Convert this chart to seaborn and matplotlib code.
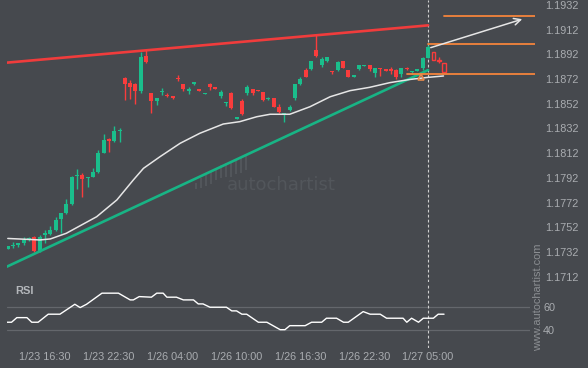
import numpy as np
import seaborn as sns
import matplotlib.pyplot as plt
from matplotlib.patches import FancyArrowPatch

# --- data (30 min candles, index 0 = first candle) ---
opens = [
    1.17346, 1.17370, 1.17378, 1.17395, 1.17417, 1.17443, 1.17327, 1.17455, 1.17465, 1.17498,
    1.17587, 1.17633, 1.17708, 1.17935, 1.17943, 1.17919, 1.17929, 1.17965, 1.18124, 1.18232,
    1.18221, 1.18299, 1.18729, 1.18686, 1.18680, 1.18626, 1.18907, 1.18605, 1.18545, 1.18615,
    1.18591, 1.18583, 1.18731, 1.18680, 1.18626, 1.18680, 1.18637, 1.18599, 1.18680, 1.18653,
    1.18583, 1.18524, 1.18610, 1.18399, 1.18542, 1.18605, 1.18642, 1.18634, 1.18615, 1.18559,
    1.18567, 1.18496, 1.18431, 1.18470, 1.18564, 1.18680, 1.18794, 1.18799, 1.18956, 1.18836,
    1.18869, 1.18788, 1.18794, 1.18869, 1.18794, 1.18739, 1.18804, 1.18823, 1.18832, 1.18772,
    1.18810, 1.18799, 1.18799, 1.18794, 1.18759, 1.18807, 1.18775, 1.18789, 1.18807, 1.18893,
    1.18939, 1.18875, 1.18848]
closes = [
    1.17370, 1.17376, 1.17390, 1.17417, 1.17433, 1.17327, 1.17443, 1.17471, 1.17498, 1.17579,
    1.17633, 1.17706, 1.17929, 1.17943, 1.17913, 1.17929, 1.17970, 1.18124, 1.18227, 1.18221,
    1.18299, 1.18308, 1.18680, 1.18658, 1.18626, 1.18901, 1.18858, 1.18545, 1.18567, 1.18626,
    1.18583, 1.18567, 1.18723, 1.18642, 1.18637, 1.18699, 1.18626, 1.18610, 1.18653, 1.18642,
    1.18615, 1.18534, 1.18486, 1.18410, 1.18437, 1.18653, 1.18610, 1.18626, 1.18551, 1.18567,
    1.18496, 1.18453, 1.18443, 1.18496, 1.18680, 1.18718, 1.18739, 1.18869, 1.18907, 1.18885,
    1.18901, 1.18780, 1.18858, 1.18812, 1.18739, 1.18755, 1.18832, 1.18832, 1.18799, 1.18810,
    1.18802, 1.18788, 1.18788, 1.18737, 1.18810, 1.18802, 1.18785, 1.18798, 1.18893, 1.18982,
    1.18875, 1.18869, 1.18775]
highs = [
    1.17370, 1.17403, 1.17390, 1.17438, 1.17437, 1.17449, 1.17457, 1.17498, 1.17530, 1.17605,
    1.17633, 1.17751, 1.17935, 1.17989, 1.17957, 1.17929, 1.18002, 1.18146, 1.18273, 1.18245,
    1.18340, 1.18326, 1.18739, 1.18713, 1.18686, 1.18942, 1.18956, 1.18610, 1.18567, 1.18648,
    1.18605, 1.18583, 1.18753, 1.18680, 1.18653, 1.18699, 1.18637, 1.18610, 1.18691, 1.18653,
    1.18632, 1.18534, 1.18615, 1.18410, 1.18556, 1.18670, 1.18642, 1.18634, 1.18615, 1.18577,
    1.18567, 1.18518, 1.18443, 1.18510, 1.18680, 1.18734, 1.18807, 1.18869, 1.19077, 1.18901,
    1.18901, 1.18788, 1.18864, 1.18869, 1.18794, 1.18755, 1.18832, 1.18832, 1.18832, 1.18810,
    1.18810, 1.18799, 1.18820, 1.18802, 1.18812, 1.18818, 1.18785, 1.18802, 1.18895, 1.18996,
    1.18939, 1.18901, 1.18848]
lows = [
    1.17346, 1.17349, 1.17362, 1.17376, 1.17412, 1.17319, 1.17319, 1.17390, 1.17457, 1.17492,
    1.17471, 1.17625, 1.17704, 1.17827, 1.17767, 1.17848, 1.17927, 1.17957, 1.18119, 1.18132,
    1.18213, 1.18213, 1.18551, 1.18556, 1.18518, 1.18610, 1.18848, 1.18448, 1.18508, 1.18589,
    1.18572, 1.18556, 1.18707, 1.18626, 1.18599, 1.18670, 1.18626, 1.18599, 1.18632, 1.18642,
    1.18569, 1.18502, 1.18480, 1.18399, 1.18431, 1.18589, 1.18589, 1.18626, 1.18545, 1.18551,
    1.18491, 1.18448, 1.18375, 1.18464, 1.18551, 1.18670, 1.18734, 1.18794, 1.18901, 1.18820,
    1.18858, 1.18761, 1.18788, 1.18807, 1.18734, 1.18737, 1.18794, 1.18823, 1.18788, 1.18739,
    1.18745, 1.18788, 1.18761, 1.18721, 1.18737, 1.18794, 1.18761, 1.18785, 1.18794, 1.18891,
    1.18875, 1.18848, 1.18775]
signal_idx = 79  # candle of the identified pattern (dashed line)

# moving average (white line)
ma_idx = [0, 4, 6, 8, 11, 16.7, 20.5, 23.6, 25.5, 28.6, 32.4, 36.1, 40.5, 43.6, 46.8,
          49.3, 53, 56.8, 60.6, 64.3, 68, 71.8, 75.6, 79, 81.9]
ma_val = [1.17429, 1.17421, 1.17417, 1.17425, 1.17471, 1.17605, 1.17741, 1.17903, 1.17997,
          1.18091, 1.18200, 1.18281, 1.18356, 1.18375, 1.18415, 1.18435, 1.18435, 1.18496,
          1.18577, 1.18626, 1.18653, 1.18691, 1.18717, 1.18734, 1.18745]

# trend lines
trend_idx = [-0.2, 79]
resistance = [1.18853, 1.19155]
support = [1.17200, 1.18793]

# target levels and projection
levels = [1.19231, 1.19004, 1.18761]
level_start = [82, 79, 75]
arrow_idx = [79, 97.2]
arrow_val = [1.18968, 1.19212]

# RSI
rsi_idx = [-0.2, 0.7, 1.7, 3.6, 4.5, 5.7, 7.6, 9.8, 12.6, 13.6, 14.8, 17.7, 20.8, 23.0, 23.6,
           24.7, 27.0, 28.0, 29.2, 29.9, 31.7, 33.0, 34.9, 35.8, 36.7, 38.0, 41.1, 42.1, 43.0,
           44.0, 44.9, 47.1, 48.7, 51.2, 52.1, 53.0, 55.9, 57.1, 59.0, 59.9, 61.8, 63.1, 64.0,
           66.8, 68.1, 70.0, 71.2, 74.3, 75.0, 75.9, 77.2, 78.1, 80.0, 80.9, 82.0]
rsi_val = [46.8, 46.8, 50.7, 50.7, 46.8, 46.8, 53.6, 53.6, 62.0, 59.2, 62.0, 71.4, 71.4, 65.7,
           65.7, 68.5, 68.0, 71.4, 71.4, 68.0, 68.0, 65.7, 65.7, 62.3, 62.3, 59.5, 59.5, 56.4,
           56.4, 53.6, 53.6, 46.8, 46.8, 40.5, 40.5, 43.9, 43.9, 46.8, 46.8, 50.2, 50.2, 46.8,
           46.8, 55.8, 53.6, 53.6, 50.2, 50.2, 46.8, 50.2, 46.8, 50.2, 50.2, 53.6, 53.6]

price_ticks = [1.1712, 1.1732, 1.1752, 1.1772, 1.1792, 1.1812, 1.1832, 1.1852, 1.1872,
               1.1892, 1.1912, 1.1932]
time_ticks = [7, 19, 31, 43, 55, 67, 79]
time_labels = ['1/23 16:30', '1/23 22:30', '1/26 04:00', '1/26 10:00',
               '1/26 16:30', '1/26 22:30', '1/27 05:00']
logo_bottom = [2, 3, 5, 7, 10, 12, 13, 13, 16, 17, 20]
logo_top = [8, 12, 15, 18, 22, 25, 26, 27, 29, 31, 33]

# --- style ---
BG = '#46494e'
GREEN = '#1abe8c'
RED = '#fa3c3c'
ORANGE = '#f5843c'
TXT = '#a9acb0'

sns.set_theme(style='dark', rc={'axes.facecolor': BG, 'figure.facecolor': BG})
plt.rcParams['font.family'] = ['Liberation Sans', 'DejaVu Sans']

W, H = 588, 368
fig = plt.figure(figsize=(W / 100, H / 100), dpi=100)

# watermark logo + text (behind everything)
lax = fig.add_axes([193 / W, 1 - 191 / H, 56 / W, 36 / H])
lax.bar(range(len(logo_top)), np.array(logo_top) - np.array(logo_bottom),
        bottom=logo_bottom, width=0.55, color='#52565b', lw=0, edgecolor='none')
lax.set_xlim(-0.6, len(logo_top) - 0.4)
lax.set_ylim(0, 34)
lax.axis('off')
fig.text(227 / W, 1 - 185 / H, 'autochartist', fontsize=13, color='#52565b',
         family='DejaVu Sans', va='center', ha='left')

x_per_px = 1 / 5.32
x0 = 7.8
ax = fig.add_axes([6.5 / W, 1 - 282 / H, (535 - 6.5) / W, 282 / H])
ax.patch.set_alpha(0)
ax.set_xlim((6.5 - x0) * x_per_px, (535 - x0) * x_per_px)
ax.set_ylim(1.193605 - 0.000081 * 282, 1.193605)

idx = np.arange(len(opens))
o = np.array(opens)
c = np.array(closes)
up = c >= o
cols = np.where(up, GREEN, RED)
ax.vlines(idx, lows, highs, colors=cols, lw=1.0, zorder=3)
for i in idx:
    lo, hi = min(o[i], c[i]), max(o[i], c[i])
    if i > signal_idx:
        ax.bar(i, hi - lo, bottom=lo, width=0.7, facecolor=BG, edgecolor=cols[i],
               lw=1.0, zorder=4)
    else:
        ax.bar(i, hi - lo, bottom=lo, width=0.75, color=cols[i], lw=0, zorder=4)

sns.lineplot(x=trend_idx, y=resistance, ax=ax, color='#f03c3c', lw=1.9, zorder=2)
sns.lineplot(x=trend_idx, y=support, ax=ax, color='#18b485', lw=1.9, zorder=5)
sns.lineplot(x=ma_idx, y=ma_val, ax=ax, color='#e6e6e6', lw=1.1, zorder=6)

right = ax.get_xlim()[1]
for lv, st in zip(levels, level_start):
    ax.plot([st, right], [lv, lv], color=ORANGE, lw=1.3, zorder=5)
ax.add_patch(FancyArrowPatch((arrow_idx[0], arrow_val[0]), (arrow_idx[1], arrow_val[1]),
                             arrowstyle='->', mutation_scale=12, color='#e6e6e6', lw=1.1,
                             zorder=6))
ax.plot(77.7, 1.18733, marker='^', ms=5, mfc='none', mec='#e88a4c', mew=1.2, zorder=7)
ax.axvline(signal_idx, color='#cfcfcf', lw=0.8, ls=(0, (2.5, 2)), zorder=1)

ax.yaxis.tick_right()
ax.set_yticks(price_ticks)
ax.set_yticklabels([f'{t:.4f}' for t in price_ticks])
ax.tick_params(axis='y', length=0, pad=7.2, labelsize=7.8, labelcolor=TXT)
ax.set_xticks([])
for s in ax.spines.values():
    s.set_visible(False)

# RSI panel
rax = fig.add_axes([6.5 / W, 20 / H, (530 - 6.5) / W, 65 / H])
rax.patch.set_alpha(0)
rax.set_xlim((6.5 - x0) * x_per_px, (530 - x0) * x_per_px)
rax.set_ylim(25, 80)
for g in (40, 60):
    rax.axhline(g, color='#64676c', lw=0.9, zorder=1)
sns.lineplot(x=rsi_idx, y=rsi_val, ax=rax, color='white', lw=1.0, zorder=3)
rax.axvline(signal_idx, color='#cfcfcf', lw=0.8, ls=(0, (2.5, 2)), zorder=2)
rax.text(0.016, 0.87, 'RSI', transform=rax.transAxes, fontsize=8, fontweight='bold',
         color='#b4b7bb', va='center', ha='left')
rax.yaxis.tick_right()
rax.set_yticks([40, 60])
rax.tick_params(axis='y', length=0, pad=9.5, labelsize=7.8, labelcolor=TXT)
rax.set_xticks(time_ticks)
rax.set_xticklabels(time_labels)
rax.tick_params(axis='x', length=0, pad=3, labelsize=7.8, labelcolor=TXT)
rax.set_xlabel('')
rax.set_ylabel('')
ax.set_xlabel('')
ax.set_ylabel('')
for s in rax.spines.values():
    s.set_visible(False)

fig.text(538 / W, 1 - 297 / H, 'www.autochartist.com', rotation=90, fontsize=7.9,
         color='#8c8f93', va='center', ha='center')

fig.savefig('out.png', dpi=100, facecolor=BG)
